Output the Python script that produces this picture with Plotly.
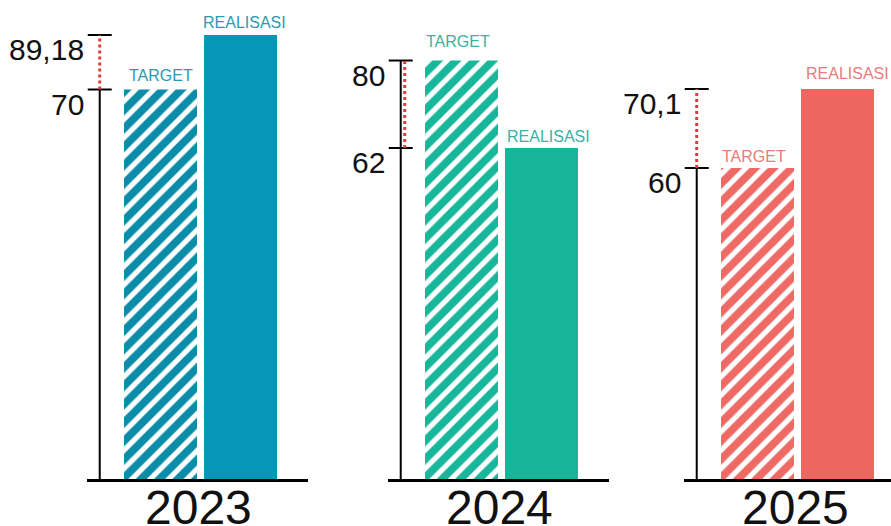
import plotly.graph_objects as go

# ---- data ----
years = ["2023", "2024", "2025"]
categories = ["TARGET", "REALISASI"]
target = [70, 80, 60]
realisasi = [89.18, 62, 70.1]

# ---- style ----
W, H = 891, 526
FONT = "Liberation Sans, Arial, Helvetica, sans-serif"
bar_colors = ["#0797B6", "#17B69B", "#EF6560"]
hatch_colors = ["#0B8CA8", "#18B69A", "#EF6A65"]
label_colors = ["#2C99AE", "#35B4A0", "#E97C7C"]
dot_color = "#E23B3B"

# panel pixel geometry (left px, right px) and y-ranges
panel_px = [(87, 308), (388, 609), (684, 891)]
yranges = [(-67.07, 101.5), (-6.09, 92.45), (20.24, 81.48)]
PX_PER_CAT = 80.0
X0 = -0.919
AXIS_X = -0.76
BASE_PX = 479
label_yshift = [[4, 2], [9, 1.5], [1.5, 5.5]]
label_xshift = [[0, 4], [-4, 7], [-4, 10]]


def fmt(v):
    return f"{v:g}".replace(".", ",")


fig = go.Figure()
annotations = []
shapes = []

for i in range(3):
    xa = "x" if i == 0 else f"x{i+1}"
    ya = "y" if i == 0 else f"y{i+1}"
    base = yranges[i][0]
    vals = [target[i], realisasi[i]]
    fig.add_trace(go.Bar(
        x=categories,
        y=[v - base for v in vals],
        base=[base, base],
        width=[0.9125, 0.9125],
        xaxis=xa, yaxis=ya,
        marker=dict(
            color=[hatch_colors[i], bar_colors[i]],
            line=dict(width=0),
            pattern=dict(shape=["/", ""], size=13, solidity=0.6,
                         fillmode="replace"),
        ),
        showlegend=False,
        hoverinfo="skip",
    ))

    L, R = panel_px[i]
    dom = [L / W, R / W]
    xr = [X0, X0 + (R - L) / PX_PER_CAT]
    axkey = "xaxis" if i == 0 else f"xaxis{i+1}"
    aykey = "yaxis" if i == 0 else f"yaxis{i+1}"
    fig.layout[axkey] = dict(
        domain=dom, range=xr, anchor=ya, type="category",
        showline=True, linecolor="black", linewidth=3,
        showticklabels=False, ticks="", showgrid=False, zeroline=False,
        fixedrange=True,
    )
    fig.layout[aykey] = dict(
        domain=[(H - BASE_PX) / H, 1], range=list(yranges[i]), anchor=xa,
        visible=False, showgrid=False, zeroline=False, fixedrange=True,
    )

    # black vertical axis from baseline up to target value
    shapes.append(dict(type="line", xref=xa, yref=ya,
                       x0=AXIS_X, x1=AXIS_X, y0=base, y1=target[i],
                       line=dict(color="black", width=2)))
    # ticks at target and realisasi
    for v in vals:
        shapes.append(dict(type="line", xref=xa, yref=ya,
                           xsizemode="pixel", xanchor=AXIS_X,
                           x0=-12, x1=12, y0=v, y1=v,
                           line=dict(color="black", width=2)))
        annotations.append(dict(
            xref=xa, yref=ya, x=AXIS_X, y=v, text=fmt(v),
            xanchor="right", yanchor="top", xshift=-14, yshift=4,
            showarrow=False, font=dict(family=FONT, size=30, color="#111111"),
        ))
    # red dotted gap line
    off = 4 if realisasi[i] < target[i] else 0
    shapes.append(dict(type="line", xref=xa, yref=ya,
                       xsizemode="pixel", xanchor=AXIS_X,
                       x0=off, x1=off,
                       y0=min(vals), y1=max(vals),
                       line=dict(color=dot_color, width=3, dash="dot")))
    # bar labels
    for j, c in enumerate(categories):
        annotations.append(dict(
            xref=xa, yref=ya, x=c, y=vals[j], text=c,
            xanchor="center", yanchor="bottom",
            xshift=label_xshift[i][j], yshift=label_yshift[i][j],
            showarrow=False,
            font=dict(family=FONT, size=16, color=label_colors[i]),
        ))
    # year label
    annotations.append(dict(
        xref=xa, yref="paper", x=0.5, y=(H - BASE_PX) / H, text=years[i],
        xanchor="center", yanchor="top", xshift=-2, yshift=0,
        showarrow=False, font=dict(family=FONT, size=48, color="#111111"),
    ))

fig.update_layout(
    width=W, height=H,
    margin=dict(l=0, r=0, t=0, b=0),
    paper_bgcolor="white", plot_bgcolor="white",
    barmode="overlay",
    annotations=annotations,
    shapes=shapes,
    showlegend=False,
)

fig.write_html("out.html", config={"displayModeBar": False})
